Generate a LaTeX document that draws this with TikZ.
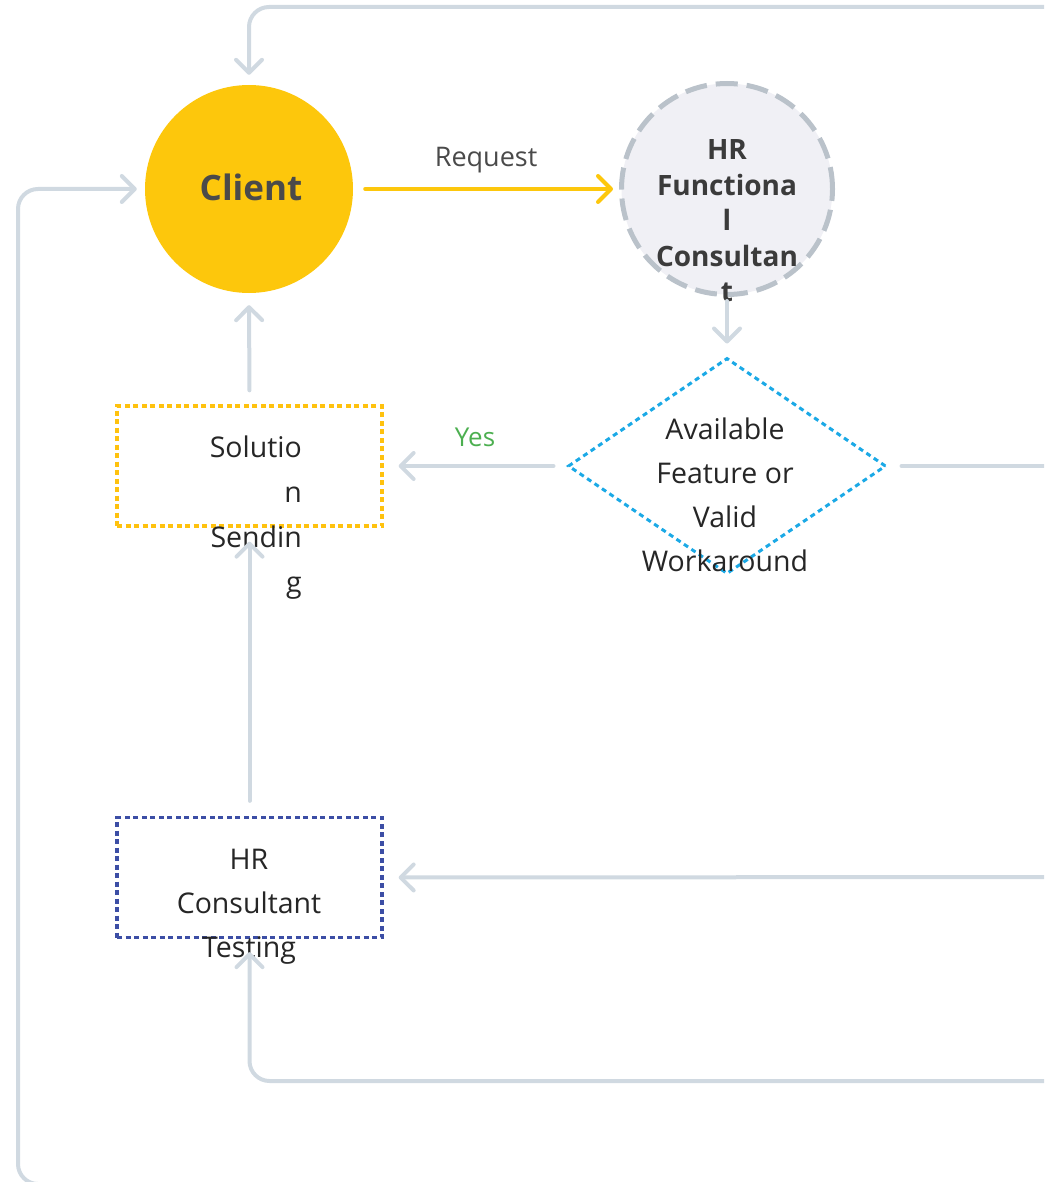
\documentclass[tikz,border=0pt]{standalone}
\usepackage{fontspec}
\setmainfont{Open Sans}
\usetikzlibrary{arrows.meta,shapes.geometric}

\definecolor{linegray}{HTML}{D0D9E1}
\definecolor{clientyellow}{HTML}{FDC70C}
\definecolor{hrfill}{HTML}{F0F0F5}
\definecolor{hrborder}{HTML}{BAC2CA}
\definecolor{decblue}{HTML}{1BA9E6}
\definecolor{boxyellow}{HTML}{FFC20E}
\definecolor{boxnavy}{HTML}{3C4EA5}
\definecolor{textdark}{HTML}{262626}
\definecolor{textgray}{HTML}{4A4A4A}
\definecolor{yesgreen}{HTML}{4CAF50}

\tikzset{
  conn/.style={draw=linegray, line width=4pt, line cap=round, line join=round,
    rounded corners=20pt,
    -{Straight Barb[length=13pt,width=26pt,round]}},
  plainconn/.style={draw=linegray, line width=4pt, line cap=round},
  reqconn/.style={draw=clientyellow, line width=4pt, line cap=round,
    -{Straight Barb[length=13pt,width=26pt,round]}},
  bodytext/.style={text=textdark, inner sep=0pt, font=\fontsize{28.5}{44}\selectfont},
  stepbox/.style={rectangle, line width=3.3pt, dash pattern=on 5pt off 3.5pt,
    minimum width=265pt, minimum height=120pt, inner sep=0pt},
}

\begin{document}
\begin{tikzpicture}[x=1pt,y=-1pt]
  \useasboundingbox (0,0) rectangle (1044,1182);
  \clip (0,0) rectangle (1044,1182);

  % nodes
  \node[circle, fill=clientyellow, minimum size=208pt, inner sep=0pt] (client) at (249,189) {};
  \node[text=textgray, font=\fontsize{35}{40}\selectfont\bfseries, inner sep=0pt] (clientlabel) at (251,187) {Client};

  \node[circle, fill=hrfill, draw=hrborder, line width=5pt, dash pattern=on 22pt off 9pt,
        minimum size=211pt, inner sep=0pt] (hr) at (727,189) {};
  \node[bodytext, font=\fontsize{28}{35.5}\selectfont\bfseries, text=textgray!80!black, align=center]
        (hrlabel) at (727,221) {HR\\Functiona\\l\\Consultan\\t};

  \node[diamond, draw=decblue, line width=3pt, dash pattern=on 5pt off 4pt,
        minimum width=318pt, minimum height=216pt, aspect=1.47, inner sep=0pt] (dec) at (727,466) {};
  \node[bodytext, align=center] (declabel) at (725,495) {Available\\Feature or\\Valid\\Workaround};

  \node[stepbox, draw=boxyellow] (sol) at (249.5,466) {};
  \node[bodytext, font=\fontsize{28.5}{45}\selectfont, align=right, anchor=east] (sollabel) at (302,518) {Solutio\\n\\Sendin\\g};

  \node[stepbox, draw=boxnavy] (test) at (249.5,877.5) {};
  \node[bodytext, align=center] (testlabel) at (249,907) {HR\\Consultant\\Testing};

  % loose ends leaving the drawing area
  \coordinate (topin) at (1060,7);
  \coordinate (bottomin) at (1060,1184);
  \coordinate (leftcorner) at (18,1184);
  \coordinate (rightout) at (1060,466);
  \coordinate (midin) at (1060,877);
  \coordinate (lowin) at (1060,1081);

  % connectors
  \draw[reqconn, shorten <=12pt, shorten >=6pt] (client.east) -- (hr.west)
    node[midway, above=14pt, text=textgray, inner sep=0pt, font=\fontsize{27}{30}\selectfont] (reqlabel) {Request};
  \draw[conn, shorten <=4pt, shorten >=13pt] (hr.south) -- (dec.north);
  \draw[conn, shorten <=13pt, shorten >=15pt] (dec.west) -- (sol.east)
    node[midway, above=17pt, text=yesgreen, inner sep=0pt, font=\fontsize{26}{30}\selectfont] (yeslabel) {Yes};
  \draw[plainconn, shorten <=14pt] (dec.east) -- (rightout);
  \draw[conn, shorten <=14pt, shorten >=12pt] (sol.north) -- (client.south);
  \draw[conn, shorten <=15pt, shorten >=14pt] (test.north) -- (sol.south);
  \draw[conn, shorten >=15pt] (midin) -- (test.east);
  \draw[conn, shorten >=13pt] (lowin) -| (test.south);
  \draw[conn, shorten >=10pt] (topin) -| (client.north);
  \draw[conn, shorten >=8pt] (bottomin) -- (leftcorner) |- (client.west);
\end{tikzpicture}
\end{document}
